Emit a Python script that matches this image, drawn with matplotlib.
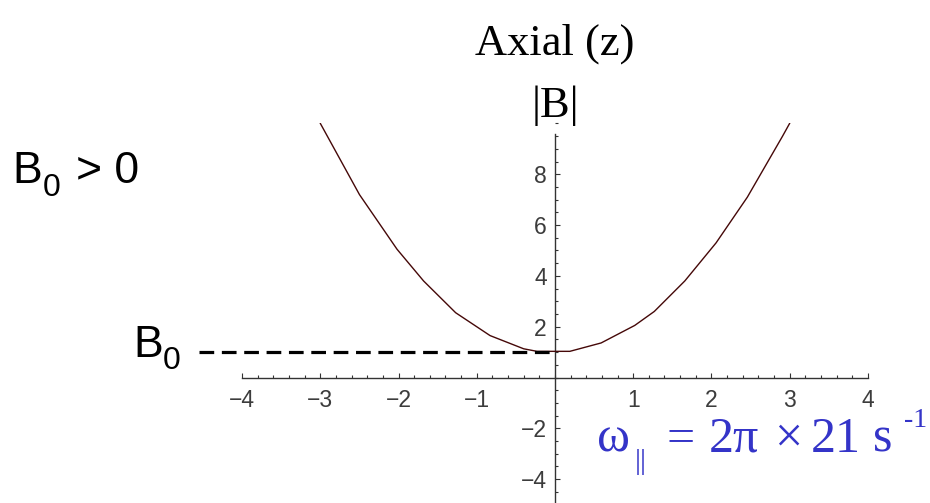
import matplotlib
matplotlib.use("Agg")
import matplotlib.pyplot as plt
import matplotlib.transforms as mtransforms
from matplotlib.ticker import FixedLocator, MultipleLocator, FixedFormatter

# Axial field magnitude |B| sampled along z
z_vals = [-3.0, -2.5, -2.02, -1.68, -1.27, -0.83, -0.40, -0.23, 0.19,
          0.59, 1.02, 1.27, 1.66, 2.06, 2.46, 2.91, 3.0]
b_vals = [10.0, 7.2, 5.05, 3.8, 2.55, 1.65, 1.13, 1.03, 1.03,
          1.36, 2.05, 2.6, 3.8, 5.3, 7.1, 9.5, 10.0]
b0_level = 1.0
b0_span = [-4.55, 0.0]

x_ticks = [-4, -3, -2, -1, 1, 2, 3, 4]
x_tick_labels = ["\u22124", "\u22123", "\u22122", "\u22121", "1", "2", "3", "4"]
y_ticks = [-4, -2, 2, 4, 6, 8]
y_tick_labels = ["\u22124", "\u22122", "2", "4", "6", "8"]

W, H = 930, 503
fig = plt.figure(figsize=(W / 100, H / 100), dpi=100)
ax = fig.add_axes([0.2604, -0.003, 0.6727, 0.7575])
ax.set_xlim(-4, 4)
ax.set_ylim(-5, 10)
ax.patch.set_visible(False)

axis_col = "#333333"
for side in ("top", "right"):
    ax.spines[side].set_visible(False)
ax.spines["bottom"].set_position(("data", 0))
ax.spines["left"].set_position(("data", 0))
ax.spines["bottom"].set_bounds(-4, 4)
ax.spines["left"].set_bounds(-5, 9.6)
for side in ("bottom", "left"):
    ax.spines[side].set_color(axis_col)
    ax.spines[side].set_linewidth(1.0)

ax.xaxis.set_major_locator(FixedLocator(x_ticks))
ax.xaxis.set_major_formatter(FixedFormatter(x_tick_labels))
ax.xaxis.set_minor_locator(MultipleLocator(0.2))
ax.yaxis.set_major_locator(FixedLocator(y_ticks))
ax.yaxis.set_major_formatter(FixedFormatter(y_tick_labels))
ax.yaxis.set_minor_locator(MultipleLocator(0.5))

ax.tick_params(axis="both", which="major", direction="in", length=3.8,
               width=0.8, color=axis_col, labelcolor="#3c3c3c", labelsize=16.5)
ax.tick_params(axis="both", which="minor", direction="in", length=2.2,
               width=0.8, color=axis_col)
ax.tick_params(axis="x", which="major", pad=8)
ax.tick_params(axis="y", which="major", pad=6)
for lab in ax.get_xticklabels() + ax.get_yticklabels():
    lab.set_family("Liberation Sans")

# field curve
ax.plot(z_vals, b_vals, color="#450808", linewidth=1.0, zorder=3)

# dashed B0 reference line
ax.plot(b0_span, [b0_level, b0_level], color="black", linewidth=2.3,
        linestyle=(0, (4.6, 2.4)), clip_on=False, zorder=4)

# pixel-based placement for the annotations (origin at top-left)
pix = mtransforms.Affine2D().scale(1 / W, -1 / H).translate(0, 1) + fig.transFigure


def put(x, y, s, **kw):
    opts = dict(transform=pix, ha="left", va="baseline", color="black")
    opts.update(kw)
    return fig.text(x, y, s, **opts)


serif = "Liberation Serif"
sans = "Liberation Sans"

put(555, 55, "Axial (z)", ha="center", family=serif, fontsize=32)
put(555, 117, "|B|", ha="center", family=serif, fontsize=32)

# "B0 > 0" condition
put(12, 183, "B", family=sans, fontsize=32)
put(43, 196, "0", family=sans, fontsize=23)
put(76, 183, "> 0", family=sans, fontsize=32)

# B0 marker for the dashed level
put(133, 357, "B", family=sans, fontsize=32)
put(163, 369, "0", family=sans, fontsize=23)

# axial trap frequency
blue = "#3434c8"
fs = 36
put(597, 452, "\u03c9", family=serif, fontsize=fs, color=blue)
put(635, 469, "||", family=serif, fontsize=21, color=blue)
put(666, 452, "=", family=serif, fontsize=fs, color=blue)
put(709, 452, "2\u03c0", family=serif, fontsize=fs, color=blue)
put(774, 452, "\u00d7", family=serif, fontsize=fs, color=blue)
put(811, 452, "21", family=serif, fontsize=fs, color=blue)
put(873, 452, "s", family=serif, fontsize=fs, color=blue)
put(904, 427, "-1", family=serif, fontsize=20, color=blue)

fig.savefig("out.png", dpi=100)
